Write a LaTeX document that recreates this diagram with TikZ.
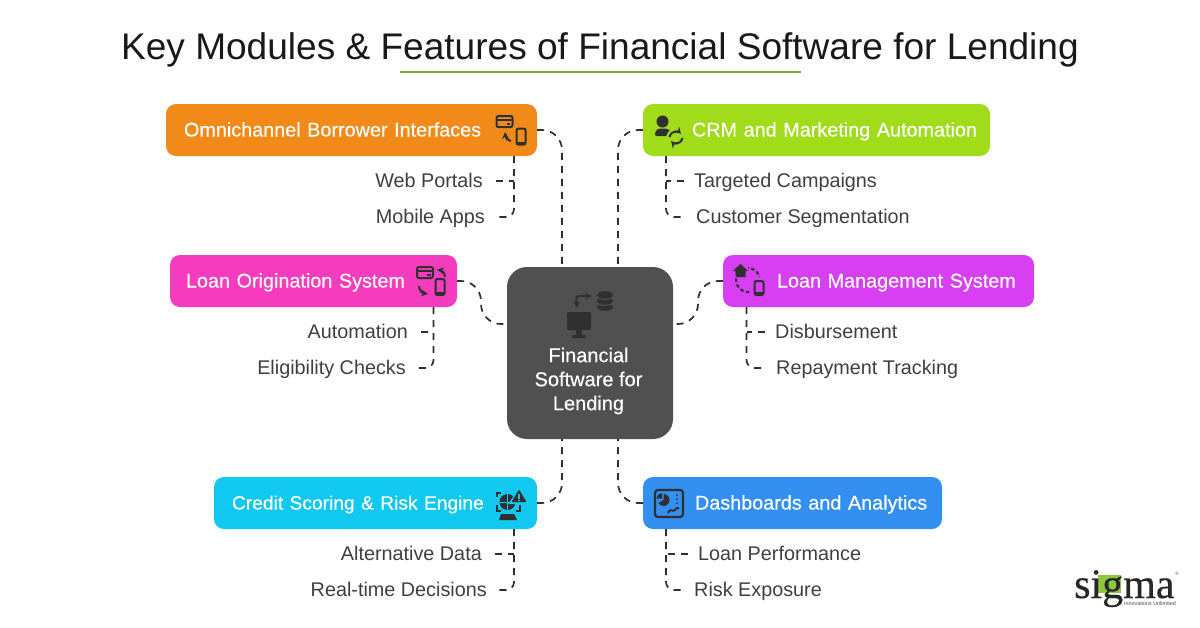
\documentclass[tikz,border=0pt]{standalone}
\usepackage{fontspec}
\setmainfont{Liberation Sans}
\newfontfamily\medfont[FakeBold=0.35]{Liberation Sans}
\newfontfamily\logofont[FakeBold=0.4]{Liberation Serif}
\definecolor{inkcol}{HTML}{3F3F3F}
\definecolor{iconcol}{HTML}{303030}
\definecolor{hubcol}{HTML}{505050}
\definecolor{omnicol}{HTML}{F28A1A}
\definecolor{crmcol}{HTML}{A0DC1A}
\definecolor{origcol}{HTML}{F53BBE}
\definecolor{lmscol}{HTML}{D83EF2}
\definecolor{creditcol}{HTML}{10C8F0}
\definecolor{dashcol}{HTML}{3390F0}
\definecolor{logocol}{HTML}{8CC63F}
\tikzset{
  modbox/.style={rounded corners=10pt,minimum height=52pt,inner sep=0pt,align=left,text=white,
    text height=16pt,text depth=3pt,font=\medfont\fontsize{19.8}{22}\selectfont},
  sublabel/.style={text=inkcol,inner sep=0pt,text height=16pt,text depth=3pt,font=\fontsize{19.8}{22}\selectfont},
  dashlink/.style={draw=iconcol,line width=1.7pt,dash pattern=on 7pt off 6pt},
  iconline/.style={draw=iconcol,line width=2pt},
  cardicon/.pic={
    \draw[iconline,rounded corners=2pt] (-8,-5.5) rectangle (8,5.5);
    \draw[iconline] (-8,-2) -- (8,-2);
    \fill[iconcol] (2,1.2) rectangle (5.5,3);
  },
  phoneicon/.pic={
    \draw[iconline,rounded corners=2pt] (-4.5,-8) rectangle (4.5,8);
    \fill[iconcol] (-4.5,5) rectangle (4.5,8);
  }
}
\begin{document}
\begin{tikzpicture}[x=1pt,y=-1pt]
\useasboundingbox (0,0) rectangle (1200,627);

% title
\node[text=black!90,inner sep=0pt,font=\fontsize{37.05}{42}\selectfont] (title) at (600,50) {Key Modules \& Features of Financial Software for Lending};
\fill[logocol!85!black] (400,71) rectangle (801,73);

% hub
\node[fill=hubcol,rounded corners=20pt,minimum width=166pt,minimum height=172pt,inner sep=0pt] (hub) at (590,353) {};
\node[align=center,text=white,inner sep=0pt,font=\medfont\fontsize{20}{24}\selectfont] (hubtext) at (588.5,381) {Financial\\Software for\\Lending};
\coordinate (hubnw) at (562,267);
\coordinate (hubne) at (618,267);
\coordinate (hubsw) at (562,439);
\coordinate (hubse) at (618,439);
\coordinate (hubl) at (507,324);
\coordinate (hubr) at (673,324);
\coordinate (origbend) at (481,324);
\coordinate (lmsbend) at (698,324);

% modules
\node[modbox,fill=omnicol,text width=371pt] (omni) at (351.5,130) {\hspace*{18pt}Omnichannel Borrower Interfaces};
\node[modbox,fill=crmcol,text width=347pt] (crm) at (816.5,130) {\hspace*{49pt}CRM and Marketing Automation};
\node[modbox,fill=origcol,text width=287pt] (orig) at (313.5,281) {\hspace*{16pt}Loan Origination System};
\node[modbox,fill=lmscol,text width=311pt] (lms) at (878.5,281) {\hspace*{54pt}Loan Management System};
\node[modbox,fill=creditcol,text width=323pt,font=\medfont\fontsize{19.2}{22}\selectfont] (credit) at (375.5,503) {\hspace*{18pt}Credit Scoring \& Risk Engine};
\node[modbox,fill=dashcol,text width=299pt] (dash) at (792.5,503) {\hspace*{52pt}Dashboards and Analytics};

% sub items
\node[sublabel,anchor=east] (web) at (483,181) {Web Portals};
\node[sublabel,anchor=east] (mobile) at (485,217) {Mobile Apps};
\node[sublabel,anchor=east] (auto) at (408,332) {Automation};
\node[sublabel,anchor=east] (elig) at (406,368) {Eligibility Checks};
\node[sublabel,anchor=east] (altdata) at (482,554) {Alternative Data};
\node[sublabel,anchor=east] (realtime) at (487,590) {Real-time Decisions};
\node[sublabel,anchor=west] (target) at (694,181) {Targeted Campaigns};
\node[sublabel,anchor=west] (segment) at (696,217) {Customer Segmentation};
\node[sublabel,anchor=west] (disburse) at (775,332) {Disbursement};
\node[sublabel,anchor=west] (repay) at (776,368) {Repayment Tracking};
\node[sublabel,anchor=west] (perf) at (698,554) {Loan Performance};
\node[sublabel,anchor=west] (risk) at (694,590) {Risk Exposure};

\coordinate (omnisub) at (514,156);
\coordinate (origsub) at (433.5,307);
\coordinate (creditsub) at (514,529);
\coordinate (crmsub) at (666,156);
\coordinate (lmssub) at (746.5,307);
\coordinate (dashsub) at (666,529);

% connectors
\draw[dashlink,rounded corners=20pt] (omni.east) -| (hubnw);
\draw[dashlink,rounded corners=20pt] (crm.west) -| (hubne);
\draw[dashlink,rounded corners=20pt] (credit.east) -| (hubsw);
\draw[dashlink,rounded corners=20pt] (dash.west) -| (hubse);
\draw[dashlink,rounded corners=20pt] (orig.east) -| (origbend) -- (hubl);
\draw[dashlink,rounded corners=20pt] (lms.west) -| (lmsbend) -- (hubr);

\foreach \sub/\one/\two in {omnisub/web/mobile,origsub/auto/elig,creditsub/altdata/realtime}{
\draw[dashlink] ([xshift=13pt]\one.east) -- (\one.east -| \sub);
\draw[dashlink,rounded corners=8pt] (\sub) |- ([xshift=10pt]\two.east);
}
\foreach \sub/\one/\two in {crmsub/target/segment,lmssub/disburse/repay,dashsub/perf/risk}{
\draw[dashlink] ([xshift=-10pt]\one.west) -- (\one.west -| \sub);
\draw[dashlink,rounded corners=8pt] (\sub) |- ([xshift=-10pt]\two.west);
}

% icons omni
\pic at (504.5,121.5) {cardicon};
\pic at (521,136.5) {phoneicon};
\draw[iconline,-stealth] (511,141) .. controls (507.5,140) and (505.5,138) .. (505,132);

% icons crm
\fill[iconcol] (662.5,121.5) circle (6pt);
\fill[iconcol,rounded corners=3pt] (654,136) -- (657,128.5) -- (668,128.5) -- (671,132) -- (668,136) -- cycle;
\fill[crmcol] (676,137.5) circle (9.5pt);
\draw[iconline,-stealth] (669.5,137) arc[start angle=170,end angle=40,radius=6.5pt];
\draw[iconline,-stealth] (682.5,138) arc[start angle=-10,end angle=-140,radius=6.5pt];

% icons orig
\pic at (425,272.5) {cardicon};
\pic at (440,287) {phoneicon};
\draw[iconline,-stealth] (445,277) .. controls (445,273) and (442,270.5) .. (437,269.5);
\draw[iconline,-stealth] (419,286) .. controls (419,290) and (422,293) .. (428,294);

% icons lms
\draw[iconline,dash pattern=on 3.5pt off 2.5pt] (748,280) circle (12pt);
\fill[lmscol] (733,262) rectangle (748,278);
\fill[iconcol] (733,271) -- (740.5,264) -- (748,271) -- (745.5,271) -- (745.5,277) -- (735.5,277) -- (735.5,271) -- cycle;
\fill[lmscol] (751,277) rectangle (768,297);
\draw[iconline,rounded corners=2pt] (754.5,281) rectangle (763.5,295);
\fill[iconcol] (754.5,292) rectangle (763.5,295);

% icons credit
\draw[iconline] (497,497) -- (497,493) -- (501,493);
\draw[iconline] (497,505) -- (497,511) -- (501,511);
\draw[iconline] (520,505) -- (520,511) -- (516,511);
\fill[iconcol] (507.5,502) circle (8pt);
\draw[creditcol,line width=1pt] (499.5,502) -- (515.5,502) (507.5,494) -- (507.5,510);
\fill[iconcol] (499,520) -- (501,514) -- (514,514) -- (517,520) -- cycle;
\fill[creditcol] (519.5,488) -- (531,504) -- (508,504) -- cycle;
\fill[iconcol,rounded corners=1pt] (519,489.5) -- (526.5,502) -- (511.5,502) -- cycle;
\draw[creditcol,line width=1.3pt] (519,494) -- (519,498.5) (519,499.5) -- (519,500.8);

% icons dash
\draw[iconline,line width=2.2pt,rounded corners=3pt] (655,490) rectangle (683,517);
\fill[iconcol] (663.5,500) -- (663.5,494) arc[start angle=90,end angle=-150,radius=6pt] -- cycle;
\fill[iconcol] (662,498.5) -- (656.5,498.5) arc[start angle=180,end angle=90,radius=5.5pt] -- cycle;
\foreach \y in {495,499,503}
\fill[iconcol] (677,\y) circle (1pt);
\draw[iconline] (668,513) .. controls (671,507) and (673,513) .. (675,510) .. controls (676,508) and (677,508) .. (679,508);

% icons hub
\fill[iconcol,rounded corners=2pt] (567,312) rectangle (591,330);
\fill[iconcol] (576,330) rectangle (582,335);
\fill[iconcol,rounded corners=1pt] (572,335) rectangle (586,338);
\draw[iconline,line width=2pt,stealth-stealth,rounded corners=3pt] (592,296) -- (576,296) -- (577,308);
\foreach \y in {307,301,295}
\fill[iconcol,draw=hubcol,line width=1pt] (605,\y) ellipse [x radius=8.5pt,y radius=4.5pt];

% logo
\fill[logocol] (1098,575) rectangle (1121,593);
\node[anchor=base west,inner sep=0pt,text=black!85,font=\logofont\fontsize{42}{43}\selectfont] (logoname) at (1074,598) {sigma};
\node[anchor=east,inner sep=0pt,text=black!70,font=\fontsize{5.4}{6}\selectfont] (logotag) at (1176,604) {Innovations Unlimited};
\node[inner sep=0pt,text=black!60,font=\fontsize{5}{6}\selectfont] (logoreg) at (1177,574) {®};
\end{tikzpicture}
\end{document}
